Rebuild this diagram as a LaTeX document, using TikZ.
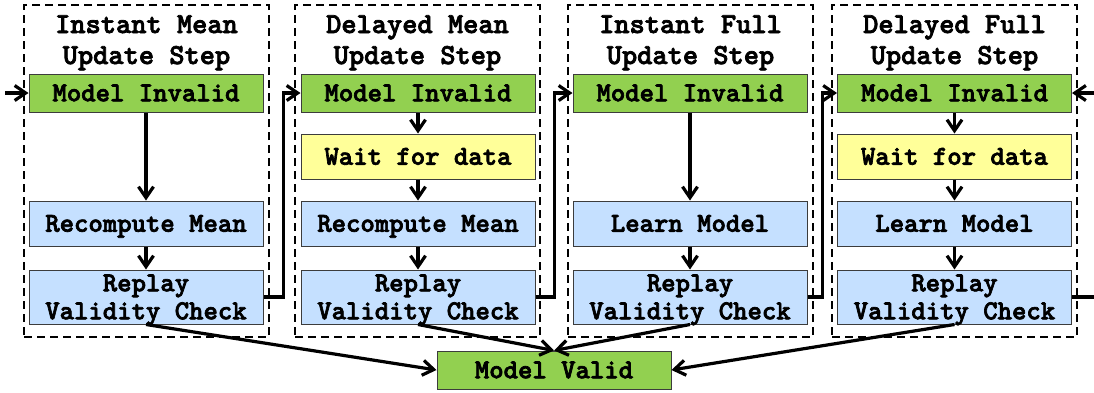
\documentclass[tikz,border=0pt]{standalone}
\usepackage{fontspec}
\newfontfamily\codefont{lmmonolt10-bold.otf}[FakeBold=2.5]
\usetikzlibrary{arrows.meta}
\definecolor{stategreen}{RGB}{146,208,80}
\definecolor{waityellow}{RGB}{255,255,153}
\definecolor{workblue}{RGB}{197,224,255}
\definecolor{edgegray}{RGB}{60,60,60}
\tikzset{
  stepframe/.style={draw=black, line width=2.3pt, dash pattern=on 8pt off 5pt,
    minimum width=245pt, minimum height=332pt, inner sep=0pt},
  steptitle/.style={font=\fontsize{29}{31}\selectfont\codefont, align=center,
    inner sep=0pt, anchor=base},
  box/.style={draw=edgegray, line width=1pt, minimum width=234pt, inner sep=0pt,
    font=\fontsize{27.4}{28}\selectfont\codefont, align=center,
    text height=16.5pt, text depth=0pt},
  invalidbox/.style={box, fill=stategreen, minimum height=38pt},
  waitbox/.style={box, fill=waityellow, minimum height=45pt},
  workbox/.style={box, fill=workblue, minimum height=45pt},
  checkbox/.style={box, fill=workblue, minimum height=54pt,
    text height=44.5pt, text depth=0pt},
  flow/.style={line width=3.2pt, -{Straight Barb[length=11pt,width=15pt]}},
  plainline/.style={line width=3.2pt}
}
\begin{document}
\begin{tikzpicture}[x=1pt,y=-1pt]
\useasboundingbox (0,0) rectangle (1094,392);

% dashed frames of the four update steps
\node[stepframe] (f1) at (146.5,171) {};
\node[stepframe] (f2) at (417.5,171) {};
\node[stepframe] (f3) at (690.5,171) {};
\node[stepframe] (f4) at (954.5,171) {};

\node[steptitle] (t1) at (146.5,64) {Instant Mean\\Update Step};
\node[steptitle] (t2) at (417.5,64) {Delayed Mean\\Update Step};
\node[steptitle] (t3) at (690.5,64) {Instant Full\\Update Step};
\node[steptitle] (t4) at (954.5,64) {Delayed Full\\Update Step};

% column 1: instant mean update
\node[invalidbox] (mi1) at (146,93) {Model Invalid};
\node[workbox] (rc1) at (146,223.5) {Recompute Mean};
\node[checkbox] (rp1) at (146,297) {Replay\\Validity Check};

% column 2: delayed mean update
\node[invalidbox] (mi2) at (418,93) {Model Invalid};
\node[waitbox] (wt2) at (418,156.5) {Wait for data};
\node[workbox] (rc2) at (418,223.5) {Recompute Mean};
\node[checkbox] (rp2) at (418,297) {Replay\\Validity Check};

% column 3: instant full update
\node[invalidbox] (mi3) at (690,93) {Model Invalid};
\node[workbox] (lm3) at (690,223.5) {Learn Model};
\node[checkbox] (rp3) at (690,297) {Replay\\Validity Check};

% column 4: delayed full update
\node[invalidbox] (mi4) at (954.5,93) {Model Invalid};
\node[waitbox] (wt4) at (954.5,156.5) {Wait for data};
\node[workbox] (lm4) at (954.5,223.5) {Learn Model};
\node[checkbox] (rp4) at (954.5,297) {Replay\\Validity Check};

\node[invalidbox] (mv) at (554,370) {Model Valid};

% loose ends at the picture border
\coordinate (inL) at (5,93);
\coordinate (inR) at (1094,93);
\coordinate (outR) at (1094,297);

% flow inside the steps
\draw[flow] (inL) -- (mi1.west);
\draw[flow] (mi1) -- (rc1);
\draw[flow] (rc1) -- (rp1);

\draw[flow] (mi2) -- (wt2);
\draw[flow] (wt2) -- (rc2);
\draw[flow] (rc2) -- (rp2);

\draw[flow] (mi3) -- (lm3);
\draw[flow] (lm3) -- (rp3);

\draw[flow] (inR) -- (mi4.east);
\draw[flow] (mi4) -- (wt4);
\draw[flow] (wt4) -- (lm4);
\draw[flow] (lm4) -- (rp4);

% hand-over from one step to the next
\draw[flow] (rp1.east) -- ++(20,0) |- (mi2.west);
\draw[flow] (rp2.east) -- ++(19,0) |- (mi3.west);
\draw[flow] (rp3.east) -- ++(15,0) |- (mi4.west);
\draw[plainline] (rp4.east) -- (outR);

% successful checks
\draw[flow] (rp1.south) -- (mv.west);
\draw[flow] (rp2.south) -- (mv.north);
\draw[flow] (rp3.south) -- (mv.north);
\draw[flow] (rp4.south) -- (mv.east);
\end{tikzpicture}
\end{document}
